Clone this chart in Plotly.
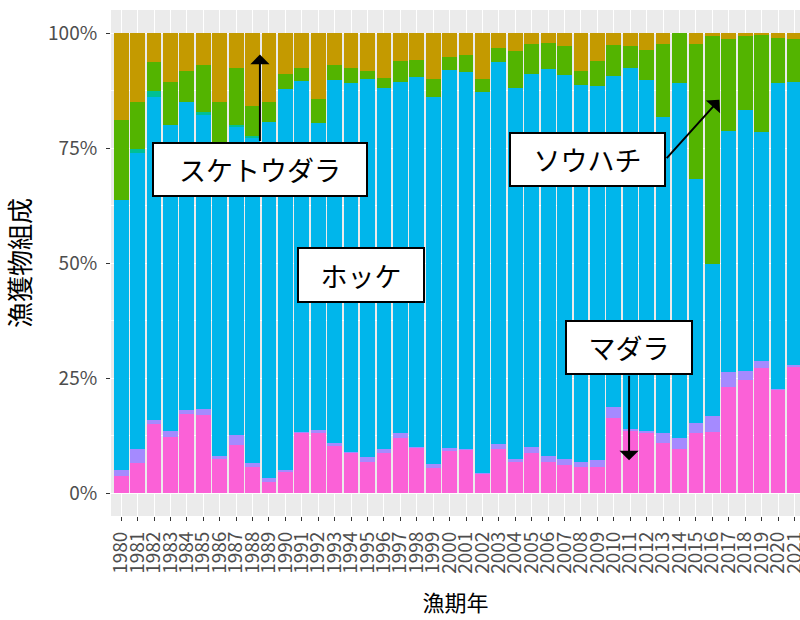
import plotly.graph_objects as go

years = list(range(1980, 2022))
tick_labels = [str(y) for y in years]

# composition shares (%), bottom to top
madara = [3.8, 6.6, 15.1, 12.2, 17.2, 17.0, 7.3, 10.5, 5.7, 2.5,
          4.7, 13.1, 13.0, 10.2, 8.8, 6.8, 8.8, 11.9, 9.8, 5.4,
          9.3, 9.4, 4.2, 9.5, 6.7, 8.8, 6.7, 6.0, 5.7, 5.7,
          16.2, 13.5, 13.1, 10.8, 9.5, 13.0, 13.3, 23.1, 24.5, 27.1,
          22.5, 27.5]
other_b = [1.3, 2.9, 0.8, 1.3, 0.8, 1.3, 0.8, 2.2, 0.8, 0.8,
           0.4, 0.2, 0.8, 0.6, 0.2, 1.0, 0.7, 1.1, 0.3, 0.8,
           0.4, 0.1, 0.2, 1.1, 0.8, 1.2, 1.3, 1.3, 1.1, 1.4,
           2.4, 0.5, 0.4, 2.2, 2.4, 2.3, 3.4, 3.2, 2.0, 1.6,
           0.2, 0.4]
hokke = [58.5, 64.4, 70.2, 66.6, 66.9, 63.8, 67.9, 67.0, 70.7, 77.4,
         82.8, 76.2, 66.6, 78.9, 80.2, 82.1, 78.6, 76.3, 80.4, 79.9,
         82.2, 82.0, 82.8, 83.0, 80.6, 81.1, 84.2, 83.5, 81.8, 81.4,
         72.0, 78.4, 76.3, 68.7, 77.3, 53.0, 33.1, 52.5, 56.8, 49.7,
         66.4, 61.5]
other_a = [0, 0.9, 1.4, 0, 0, 0.7, 0, 0.4, 0.4, 0,
           0, 0, 0, 0, 0, 0, 0, 0, 0, 0,
           0, 0, 0, 0, 0, 0, 0, 0, 0, 0,
           0, 0, 0, 0, 0, 0, 0, 0, 0, 0,
           0, 0]
souhachi = [17.4, 10.2, 6.1, 9.3, 6.9, 10.3, 9.0, 12.2, 6.5, 4.3,
            3.1, 3.0, 5.3, 3.4, 3.3, 1.8, 2.2, 4.6, 3.7, 4.0,
            2.8, 3.8, 2.7, 3.2, 7.9, 6.5, 5.7, 6.3, 3.1, 5.4,
            6.7, 4.7, 6.5, 15.9, 10.8, 29.3, 49.6, 19.9, 16.1, 21.2,
            9.9, 9.4]
suketoudara = [19.0, 15.0, 6.4, 10.6, 8.2, 6.9, 15.0, 7.7, 15.9, 15.0,
               9.0, 7.5, 14.3, 6.9, 7.5, 8.3, 9.7, 6.1, 5.8, 9.9,
               5.3, 4.7, 10.1, 3.2, 4.0, 2.4, 2.1, 2.9, 8.3, 6.1,
               2.7, 2.9, 3.7, 2.4, 0.0, 2.4, 0.6, 1.3, 0.6, 0.4,
               1.0, 1.2]

series = [
    ("マダラ", madara, "#FB61D7"),
    ("その他B", other_b, "#A58AFF"),
    ("ホッケ", hokke, "#00B6EB"),
    ("その他A", other_a, "#00C094"),
    ("ソウハチ", souhachi, "#53B400"),
    ("スケトウダラ", suketoudara, "#C49A00"),
]

FONT = "Noto Sans CJK JP"

fig = go.Figure()
for name, vals, col in series:
    fig.add_trace(go.Bar(x=years, y=vals, name=name, marker_color=col,
                         marker_line_width=0, width=0.9))

fig.update_layout(
    barmode="stack",
    barnorm="percent",
    width=800, height=620,
    margin=dict(l=111, r=0, t=10, b=104),
    paper_bgcolor="white",
    plot_bgcolor="#EBEBEB",
    showlegend=False,
    font=dict(family=FONT, color="#000000"),
)

fig.update_xaxes(
    automargin=False,
    range=[1979.38, 2021.34],
    tickvals=years, ticktext=tick_labels, tickangle=-90,
    tickfont=dict(size=19, color="#4D4D4D", family=FONT),
    ticks="outside", ticklen=4, tickcolor="#333333", tickwidth=1,
    ticklabelstandoff=3, ticklabeloverflow="allow",
    showgrid=True, gridcolor="white", gridwidth=1,
    zeroline=False, showline=False,
    title=dict(text="漁期年", font=dict(size=22, family=FONT), standoff=22),
)
fig.update_yaxes(
    automargin=False,
    range=[-5, 105],
    tickvals=[0, 25, 50, 75, 100], ticktext=["0%", "25%", "50%", "75%", "100%"],
    tickfont=dict(size=19, color="#4D4D4D", family=FONT),
    ticks="outside", ticklen=4, tickcolor="#333333", tickwidth=1,
    ticklabelstandoff=5,
    showgrid=True, gridcolor="white", gridwidth=1,
    minor=dict(tickvals=[12.5, 37.5, 62.5, 87.5], showgrid=True, gridcolor="white", gridwidth=0.5),
    zeroline=False, showline=False,
    title=dict(text="漁獲物組成", font=dict(size=26, family=FONT), standoff=12),
)

# label boxes (text, x, y, width, height)
boxes = [
    ("スケトウダラ", 1988.45, 70.3, 212, 51),
    ("ホッケ", 1994.6, 47.3, 124, 52),
    ("ソウハチ", 2008.37, 72.5, 153, 51),
    ("マダラ", 2010.93, 31.7, 124, 51),
]
for txt, bx, by, w, h in boxes:
    fig.add_annotation(x=bx, y=by, xref="x", yref="y", text=txt, showarrow=False,
                       font=dict(size=27, family=FONT, color="#000000"),
                       bgcolor="white", bordercolor="black", borderwidth=2, borderpad=0,
                       width=w, height=h, xanchor="center", yanchor="middle", align="center",
                       valign="middle")

# arrows (tip x, tip y, tail offset ax, ay in px)
arrows = [
    (1988.45, 95.3, 0, 88),
    (2016.43, 85.5, -54, 60),
    (2010.93, 7.1, 0, -86),
]
for axv, ayv, dx, dy in arrows:
    fig.add_annotation(x=axv, y=ayv, xref="x", yref="y", text="", showarrow=True,
                       ax=dx, ay=dy, arrowhead=1, arrowsize=1.6, arrowwidth=2,
                       arrowcolor="black", standoff=0, startstandoff=0)

fig.write_html("out.html", config={"displayModeBar": False},
               post_script="document.body.style.margin='0px';document.body.style.overflow='hidden';")
